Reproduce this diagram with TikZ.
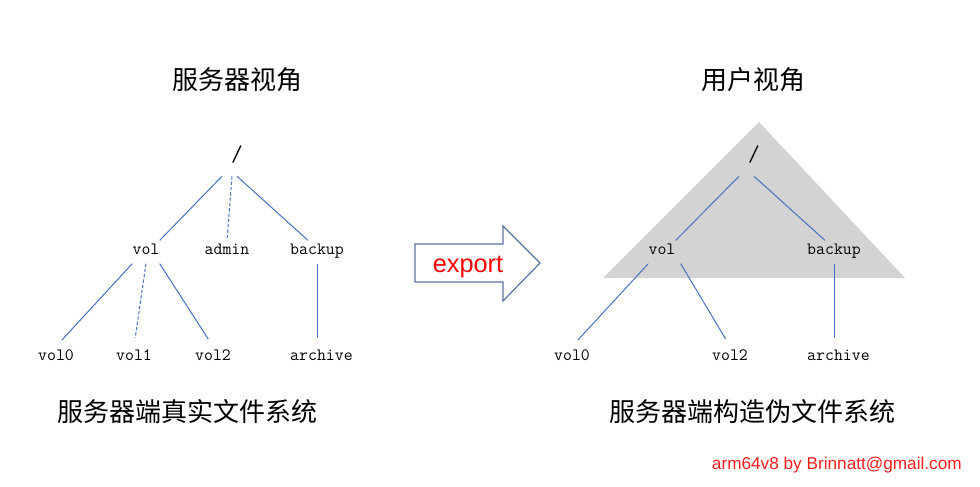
\documentclass[tikz,border=0pt]{standalone}
\usepackage{fontspec}
\newfontfamily\cjkfont{Noto Sans CJK SC}
\newfontfamily\latinfont{Liberation Sans}
\usetikzlibrary{calc}

\definecolor{linkblue}{RGB}{68,114,196}
\definecolor{arrowblue}{RGB}{90,115,165}
\definecolor{treegray}{RGB}{211,211,211}
\definecolor{signred}{RGB}{255,30,30}

\tikzset{
  link/.style={linkblue, line width=0.75pt},
  hidden/.style={link, dash pattern=on 2.5pt off 1.5pt},
  dir/.style={font=\ttfamily\fontsize{13}{15}\selectfont, inner sep=0pt,
    text height=0.62em, text depth=0.2em, minimum height=17pt},
  title/.style={font=\cjkfont\fontsize{19.5}{23}\selectfont, inner sep=0pt},
}

\begin{document}
\begin{tikzpicture}[x=0.75pt, y=-0.75pt]
  \useasboundingbox (0,0) rectangle (980,486);

  % Gray triangle behind the user view
  \fill[treegray] (759,122) -- (905,278) -- (603,278) -- cycle;

  % Titles and captions
  \node[title] (lefttitle)  at (237,80)  {服务器视角};
  \node[title] (righttitle) at (753,80)  {用户视角};
  \node[title] (leftcap)    at (187,412) {服务器端真实文件系统};
  \node[title] (rightcap)   at (752,412) {服务器端构造伪文件系统};

  % Server side tree
  \node[dir, font=\ttfamily\fontsize{17}{20}\selectfont, minimum height=25.5pt] (root) at (237,159) {/};
  \node[dir] (vol)    at (146,252) {vol};
  \node[dir] (admin)  at (227,252) {admin};
  \node[dir] (backup) at (317,252) {backup};
  \node[dir] (vol0)   at (56,358)  {vol0};
  \node[dir] (vol1)   at (134,358) {vol1};
  \node[dir] (vol2)   at (213,358) {vol2};
  \node[dir, anchor=west] (archive) at (backup.west |- 0,358) {archive};

  \draw[link] ($(root.south)+(-15,0)$) -- (vol.north east);
  \draw[hidden] ($(root.south)+(-5,0)$) -- (admin.north);
  \draw[link] (root.south) -- ($(backup.north)+(-9,0)$);
  \draw[link, shorten >=6.5pt] (vol.south west) -- (vol0.north);
  \draw[hidden, shorten >=6.5pt] (vol.south) -- (vol1.north);
  \draw[link, shorten >=6.5pt] (vol.south east) -- (vol2.north);
  \draw[link] (backup.south) -- ($(backup.south |- archive.north)+(0,-8)$);

  % Export arrow
  \draw[arrowblue, line width=0.9pt] (415,244) -- (503,244) -- (503,226) -- (540,263)
    -- (503,301) -- (503,282) -- (415,282) -- cycle;
  \node[text=red, font=\latinfont\fontsize{19}{22}\selectfont, inner sep=0pt] (export) at (468,267) {export};

  % User side tree
  \node[dir, font=\ttfamily\fontsize{17}{20}\selectfont, minimum height=25.5pt] (uroot) at (754,159) {/};
  \node[dir] (uvol)    at (662,252) {vol};
  \node[dir] (ubackup) at (834,252) {backup};
  \node[dir] (uvol0)   at (572,358) {vol0};
  \node[dir] (uvol2)   at (730,358) {vol2};
  \node[dir, anchor=west] (uarchive) at (ubackup.west |- 0,358) {archive};

  \draw[link] ($(uroot.south)+(-15,0)$) -- (uvol.north east);
  \draw[link] (uroot.south) -- ($(ubackup.north)+(-9,0)$);
  \draw[link, shorten >=6.5pt] (uvol.south west) -- (uvol0.north);
  \draw[link, shorten >=6.5pt] ($(uvol.south east)+(5,0)$) -- (uvol2.north);
  \draw[link] (ubackup.south) -- ($(ubackup.south |- uarchive.north)+(0,-8)$);

  % Signature
  \node[anchor=east, text=signred, font=\latinfont\fontsize{12.9}{15}\selectfont, inner sep=0pt] (sign) at (962,465) {arm64v8 by Brinnatt@gmail.com};
\end{tikzpicture}
\end{document}
